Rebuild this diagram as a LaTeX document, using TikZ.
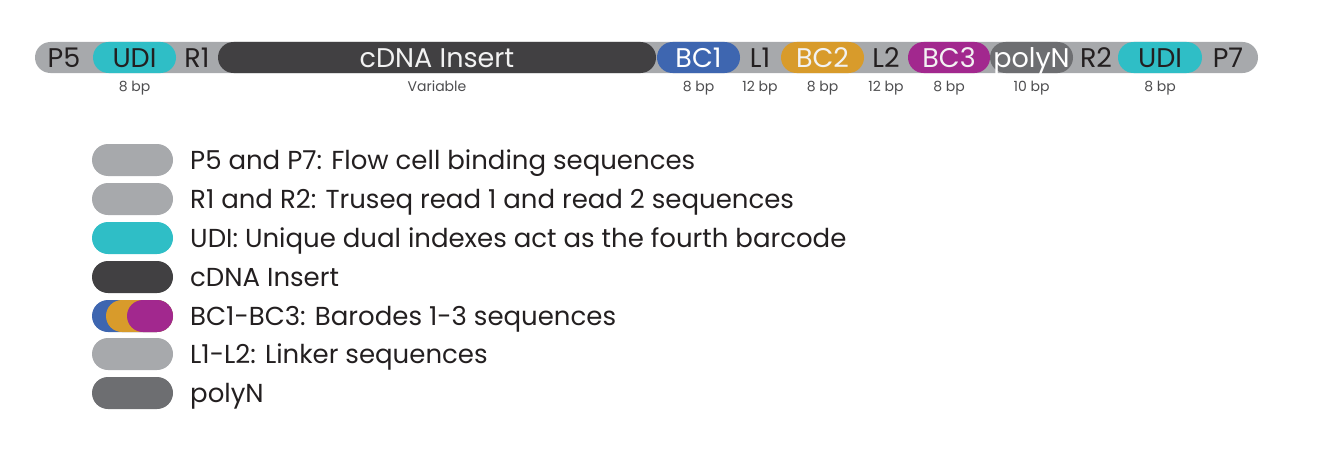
\documentclass[tikz,border=0pt]{standalone}
\usepackage{fontspec}
\setmainfont{Poppins}
\definecolor{gseg}{HTML}{A7A9AC}
\definecolor{teal}{HTML}{2FBEC6}
\definecolor{darkins}{HTML}{414042}
\definecolor{bcblue}{HTML}{3E66B0}
\definecolor{bcgold}{HTML}{D89B2B}
\definecolor{bcmag}{HTML}{A2288E}
\definecolor{polyg}{HTML}{6D6E71}
\definecolor{ink}{HTML}{231F20}
\definecolor{subink}{HTML}{4D4D4F}
\definecolor{lightink}{HTML}{F2F2F2}
\begin{document}
\begin{tikzpicture}[x=1pt,y=-1pt,
  seg/.style={rectangle, rounded corners=15.5pt, minimum height=31pt, inner sep=0pt, fill=#1},
  barlbl/.style={anchor=base, font=\fontsize{27}{27}\selectfont, text=ink, inner sep=0pt},
  sublbl/.style={anchor=base, font=\fontsize{14}{14}\selectfont, text=subink, inner sep=0pt},
  legpill/.style={rectangle, rounded corners=16pt, minimum height=32pt, inner sep=0pt, fill=#1},
  legtext/.style={anchor=base west, font=\fontsize{26}{26}\selectfont, text=ink, inner sep=0pt}]
\useasboundingbox (0,0) rectangle (1332,460);
% bar segments
\node[seg=gseg, minimum width=1223pt] (bar) at (646.5,57.5) {};
\node[seg=teal, minimum width=83pt] (udiL) at (134.5,57.5) {};
\node[seg=darkins, minimum width=438pt] (cdna) at (437,57.5) {};
\node[seg=bcblue, minimum width=83pt] (bc1) at (698.5,57.5) {};
\node[seg=bcgold, minimum width=83pt] (bc2) at (822.5,57.5) {};
\node[seg=polyg, minimum width=83pt] (poly) at (1031.5,57.5) {};
\node[seg=bcmag, minimum width=82pt] (bc3) at (949,57.5) {};
\node[seg=teal, minimum width=84pt] (udiR) at (1160,57.5) {};
% bar labels
\node[barlbl] (tP5) at (64,67) {P5};
\node[barlbl] (tUDIL) at (134.5,67) {UDI};
\node[barlbl] (tR1) at (197,67) {R1};
\node[barlbl, text=lightink] (tcdna) at (437,67) {cDNA Insert};
\node[barlbl, text=white] (tBC1) at (698.5,67) {BC1};
\node[barlbl] (tL1) at (760,67) {L1};
\node[barlbl, text=lightink] (tBC2) at (822.5,67) {BC2};
\node[barlbl] (tL2) at (886,67) {L2};
\node[barlbl, text=lightink] (tBC3) at (949,67) {BC3};
\node[barlbl, text=white] (tpoly) at (1031.5,67) {polyN};
\node[barlbl] (tR2) at (1096,67) {R2};
\node[barlbl] (tUDIR) at (1160,67) {UDI};
\node[barlbl] (tP7) at (1228,67) {P7};
% sub labels
\node[sublbl] (sUDIL) at (134.5,92) {8 bp};
\node[sublbl] (scdna) at (437,92) {Variable};
\node[sublbl] (sBC1) at (698.5,92) {8 bp};
\node[sublbl] (sL1) at (760,92) {12 bp};
\node[sublbl] (sBC2) at (822.5,92) {8 bp};
\node[sublbl] (sL2) at (886,92) {12 bp};
\node[sublbl] (sBC3) at (949,92) {8 bp};
\node[sublbl] (spoly) at (1031.5,92) {10 bp};
\node[sublbl] (sUDIR) at (1160,92) {8 bp};
% legend
\node[legpill=gseg, minimum width=81pt] (lp1) at (132.5,160) {};
\node[legpill=gseg, minimum width=81pt] (lp2) at (132.5,199) {};
\node[legpill=teal, minimum width=81pt] (lp3) at (132.5,238) {};
\node[legpill=darkins, minimum width=81pt] (lp4) at (132.5,277) {};
\node[legpill=bcblue, minimum width=81pt] (lp5a) at (132.5,316) {};
\node[legpill=bcgold, minimum width=67pt] (lp5b) at (139.5,316) {};
\node[legpill=bcmag, minimum width=46pt] (lp5c) at (150,316) {};
\node[legpill=gseg, minimum width=81pt] (lp6) at (132.5,354) {};
\node[legpill=polyg, minimum width=81pt] (lp7) at (132.5,393) {};
\node[legtext] (lt1) at (190,169) {P5 and P7: Flow cell binding sequences};
\node[legtext] (lt2) at (190,208) {R1 and R2: Truseq read 1 and read 2 sequences};
\node[legtext] (lt3) at (190,247) {UDI: Unique dual indexes act as the fourth barcode};
\node[legtext] (lt4) at (190,286) {cDNA Insert};
\node[legtext] (lt5) at (190,325) {BC1-BC3: Barodes 1-3 sequences};
\node[legtext] (lt6) at (190,363) {L1-L2: Linker sequences};
\node[legtext] (lt7) at (190,402) {polyN};
\end{tikzpicture}
\end{document}
